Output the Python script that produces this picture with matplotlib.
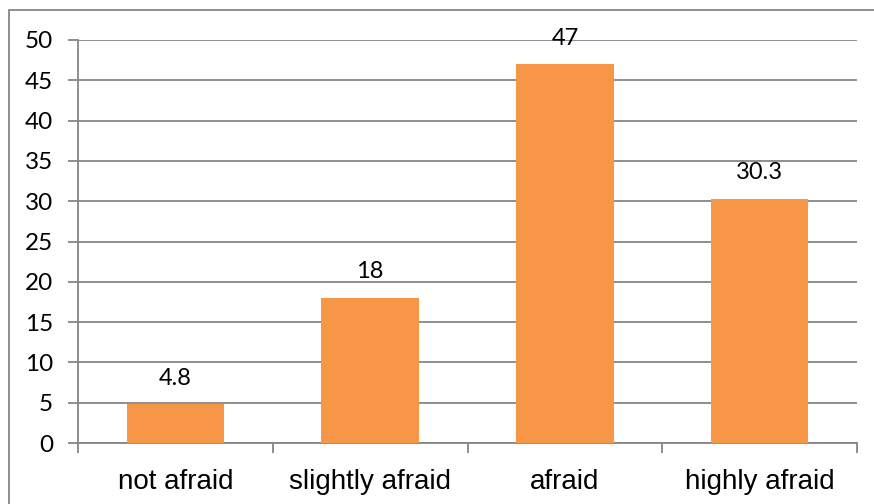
import matplotlib.pyplot as plt
from matplotlib.patches import Rectangle

categories = ['not afraid', 'slightly afraid', 'afraid', 'highly afraid']
values = [4.8, 18, 47, 30.3]
value_labels = ['4.8', '18', '47', '30.3']
y_ticks = [0, 5, 10, 15, 20, 25, 30, 35, 40, 45, 50]

bar_color = '#F79646'
grid_color = '#868686'

fig = plt.figure(figsize=(8.74, 5.04), dpi=100)
ax = fig.add_axes([78 / 874, 61 / 504, (857 - 78) / 874, (443 - 40) / 504])

x = list(range(len(categories)))
ax.bar(x, values, width=0.5, color=bar_color, zorder=3)

for xi, v, lab in zip(x, values, value_labels):
    ax.annotate(lab, (xi, v), xytext=(0, 14), textcoords='offset points',
                ha='center', va='baseline', fontsize=17, family='Lato', color='black')

ax.set_xlim(-0.5, len(categories) - 0.5)
ax.set_ylim(0, 50)
ax.set_yticks(y_ticks)
ax.set_yticklabels([str(t) for t in y_ticks], fontsize=17.5, family='Lato')
ax.yaxis.grid(True, color=grid_color, linewidth=1.3, zorder=0)
ax.tick_params(axis='y', length=7, width=1.3, color=grid_color, pad=11)

# category labels centred, tick marks on the boundaries
ax.set_xticks([i - 0.5 for i in range(len(categories) + 1)])
ax.set_xticklabels([])
ax.set_xticks(x, minor=True)
ax.set_xticklabels(categories, minor=True, fontsize=20, family='Liberation Sans')
ax.tick_params(axis='x', which='major', length=7, width=1.3, color=grid_color)
ax.tick_params(axis='x', which='minor', length=0, pad=19)

for side in ['top', 'right']:
    ax.spines[side].set_visible(False)
for side in ['left', 'bottom']:
    ax.spines[side].set_color(grid_color)
    ax.spines[side].set_linewidth(1.3)

# chart frame, right and bottom edges run off the canvas
fig.patches.append(Rectangle((9 / 874, -10 / 504), 880 / 874, 504 / 504, transform=fig.transFigure,
                             fill=False, edgecolor=grid_color, linewidth=1.3))

fig.savefig('out.png', dpi=100)
